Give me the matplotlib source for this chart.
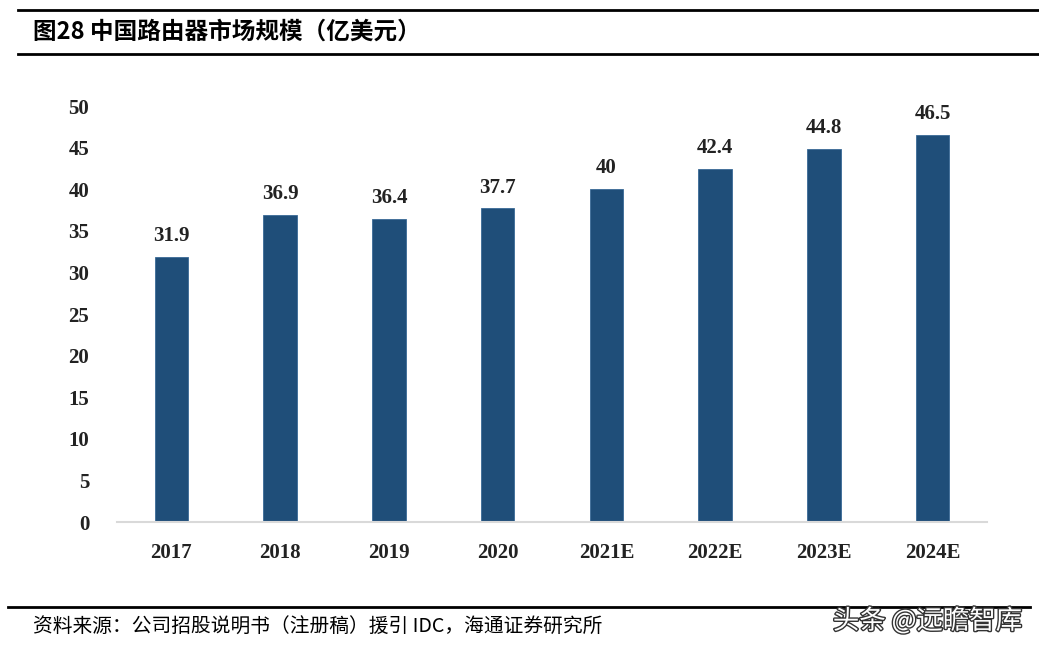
import matplotlib.pyplot as plt
import matplotlib.patheffects as pe
from matplotlib.lines import Line2D

plt.rcParams['font.family'] = ['Noto Sans CJK SC', 'DejaVu Sans']

# 数据
years = ['2017', '2018', '2019', '2020', '2021E', '2022E', '2023E', '2024E']
values = [31.9, 36.9, 36.4, 37.7, 40, 42.4, 44.8, 46.5]
labels = ['31.9', '36.9', '36.4', '37.7', '40', '42.4', '44.8', '46.5']
yticks = [0, 5, 10, 15, 20, 25, 30, 35, 40, 45, 50]

fig = plt.figure(figsize=(10.39, 6.51), dpi=100)
W, H = 1039, 651

def fx(px):
    return px / W

def fy(py):
    return 1 - py / H

ax = fig.add_axes([fx(117), fy(522), fx(987) - fx(117), fy(106) - fy(522)])

x = range(len(years))
ax.bar(x, values, width=0.31, color='#1F4E79', edgecolor='#3a6a96', linewidth=0.6, zorder=2)
for i, (v, lab) in enumerate(zip(values, labels)):
    ax.text(i, v + 1.3, lab, ha='center', va='bottom', fontsize=15,
            fontweight='bold', family='Liberation Serif', color='#222222')

ax.set_xlim(-0.5, 7.5)
ax.set_ylim(0, 50)
ax.set_yticks(yticks)
ax.set_xticks(list(x))
ax.set_xticklabels(years)
for lab in ax.get_xticklabels() + ax.get_yticklabels():
    lab.set_family('Liberation Serif')
    lab.set_fontweight('bold')
    lab.set_fontsize(15)
    lab.set_color('#222222')
ax.tick_params(axis='both', length=0)
ax.tick_params(axis='y', pad=20)
ax.tick_params(axis='x', pad=15)
for s in ['top', 'right', 'left']:
    ax.spines[s].set_visible(False)
ax.spines['bottom'].set_color('#d9d9d9')
ax.spines['bottom'].set_linewidth(1.5)

# 标题与分隔线
fig.add_artist(Line2D([fx(18), 1], [fy(10), fy(10)], color='black', lw=2))
fig.add_artist(Line2D([fx(18), 1], [fy(54), fy(54)], color='black', lw=2))
fig.add_artist(Line2D([fx(8), fx(1030)], [fy(607), fy(607)], color='black', lw=2))

fig.text(fx(33), fy(32), '图28 中国路由器市场规模（亿美元）', ha='left', va='center',
         fontsize=17, fontweight='bold', color='black')
fig.text(fx(33), fy(627), '资料来源：公司招股说明书（注册稿）援引 IDC，海通证券研究所',
         ha='left', va='center', fontsize=14.2, color='black')
fig.text(fx(1022), fy(621), '头条 @远瞻智库', ha='right', va='center', fontsize=19,
         color='white', path_effects=[pe.withStroke(linewidth=2, foreground='#333333')])

fig.savefig('out.png', dpi=100)
